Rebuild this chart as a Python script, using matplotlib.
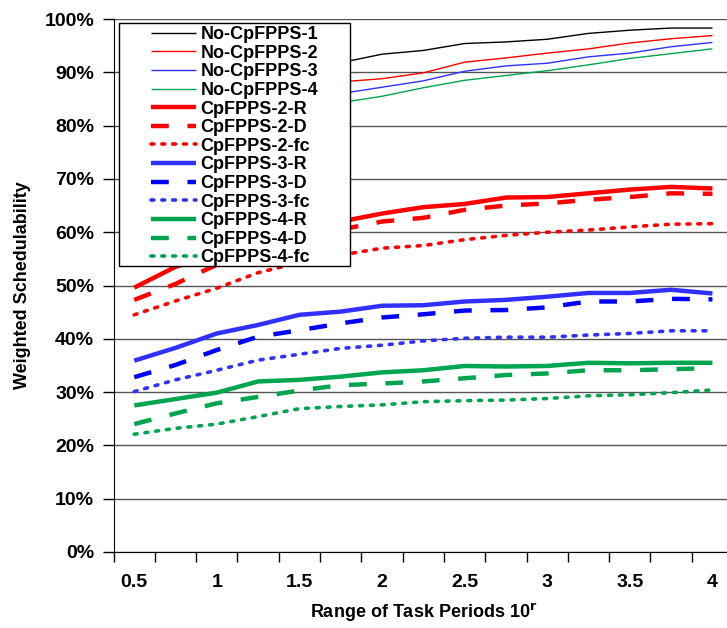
import matplotlib
matplotlib.use('Agg')
import matplotlib.pyplot as plt
from matplotlib.patches import Rectangle
from matplotlib.ticker import FixedLocator, PercentFormatter

# x categories: range of task periods
r_values = [0.5, 0.75, 1.0, 1.25, 1.5, 1.75, 2.0, 2.25, 2.5, 2.75, 3.0, 3.25, 3.5, 3.75, 4.0]
x_labels = ['0.5', '1', '1.5', '2', '2.5', '3', '3.5', '4']

# weighted schedulability (%)
no_cp_1 = [80.0, 84.0, 87.0, 89.0, 90.6, 91.8, 93.4, 94.1, 95.4, 95.7, 96.2, 97.3, 97.9, 98.3, 98.3]
no_cp_2 = [72.0, 77.5, 81.5, 84.5, 86.8, 88.2, 88.8, 89.9, 91.9, 92.7, 93.6, 94.4, 95.5, 96.3, 96.9]
no_cp_3 = [68.0, 73.5, 78.0, 81.5, 84.3, 86.0, 87.2, 88.4, 90.2, 91.2, 91.7, 92.9, 93.6, 94.8, 95.6]
no_cp_4 = [65.0, 70.5, 75.0, 78.5, 81.8, 84.3, 85.5, 87.1, 88.5, 89.4, 90.3, 91.4, 92.6, 93.5, 94.4]

cp2_r = [49.6, 53.5, 56.0, 58.5, 60.5, 62.0, 63.5, 64.7, 65.3, 66.5, 66.6, 67.3, 68.0, 68.5, 68.2]
cp2_d = [47.3, 50.3, 53.9, 56.5, 58.5, 60.5, 62.0, 62.7, 64.2, 65.0, 65.4, 66.1, 66.6, 67.3, 67.2]
cp2_fc = [44.5, 47.1, 49.5, 52.4, 54.3, 55.7, 57.0, 57.5, 58.6, 59.4, 60.0, 60.4, 61.0, 61.5, 61.6]

cp3_r = [35.9, 38.3, 41.0, 42.6, 44.5, 45.1, 46.2, 46.3, 47.0, 47.3, 47.9, 48.6, 48.6, 49.2, 48.5]
cp3_d = [32.8, 35.1, 37.9, 40.4, 41.6, 42.9, 44.0, 44.6, 45.3, 45.4, 45.9, 47.0, 47.0, 47.5, 47.4]
cp3_fc = [30.1, 32.3, 34.1, 36.0, 37.1, 38.2, 38.8, 39.6, 40.1, 40.3, 40.3, 40.7, 41.0, 41.5, 41.5]

cp4_r = [27.5, 28.7, 29.9, 32.0, 32.3, 32.9, 33.7, 34.1, 34.9, 34.8, 34.9, 35.5, 35.4, 35.5, 35.5]
cp4_d = [24.0, 26.0, 27.9, 29.1, 30.3, 31.3, 31.6, 32.0, 32.6, 33.2, 33.5, 34.1, 34.1, 34.3, 34.5]
cp4_fc = [22.1, 23.2, 24.0, 25.4, 26.9, 27.3, 27.6, 28.2, 28.4, 28.5, 28.8, 29.3, 29.5, 29.9, 30.4]

RED = '#FF0000'
BLUE = '#3030FF'
DBLUE = '#0000FF'
GREEN = '#00A550'
dash = (0, (4.0, 4.2))
dot = (0, (0.8, 2.2))

series = [
    ('No-CpFPPS-1', no_cp_1, 'black', '-', 1.0),
    ('No-CpFPPS-2', no_cp_2, RED, '-', 1.0),
    ('No-CpFPPS-3', no_cp_3, BLUE, '-', 1.0),
    ('No-CpFPPS-4', no_cp_4, GREEN, '-', 1.0),
    ('CpFPPS-2-R', cp2_r, RED, '-', 3.2),
    ('CpFPPS-2-D', cp2_d, RED, dash, 3.2),
    ('CpFPPS-2-fc', cp2_fc, RED, dot, 2.6),
    ('CpFPPS-3-R', cp3_r, BLUE, '-', 3.2),
    ('CpFPPS-3-D', cp3_d, DBLUE, dash, 3.2),
    ('CpFPPS-3-fc', cp3_fc, BLUE, dot, 2.6),
    ('CpFPPS-4-R', cp4_r, GREEN, '-', 3.2),
    ('CpFPPS-4-D', cp4_d, GREEN, dash, 3.2),
    ('CpFPPS-4-fc', cp4_fc, GREEN, dot, 2.6),
]

plt.rcParams['font.family'] = ['Liberation Sans', 'DejaVu Sans']

W, H = 727, 628
fig = plt.figure(figsize=(W / 100, H / 100), dpi=100)
ax = fig.add_axes([113.6 / W, 76 / H, 619.5 / W, 533 / H])

for name, vals, col, ls, lw in series:
    ax.plot(r_values, vals, color=col, linestyle=ls, linewidth=lw, label=name,
            solid_capstyle='butt', dash_capstyle='round' if ls == dot else 'butt')

ax.set_xlim(0.375, 4.125)
ax.set_ylim(0, 100)
ax.set_yticks(range(0, 101, 10))
ax.yaxis.set_major_formatter(PercentFormatter(decimals=0))
ax.yaxis.grid(True, color='#555555', linewidth=1.0)
ax.set_axisbelow(True)

ax.set_xticks([0.5, 1, 1.5, 2, 2.5, 3, 3.5, 4])
ax.set_xticklabels(x_labels)
ax.xaxis.set_minor_locator(FixedLocator([0.375 + 0.25 * k for k in range(16)]))
ax.tick_params(axis='x', which='major', length=0, pad=16)
ax.tick_params(axis='x', which='minor', length=7, width=1, direction='out')
ax.tick_params(axis='y', length=8, width=1, direction='out', pad=6)

for lab in ax.get_xticklabels() + ax.get_yticklabels():
    lab.set_fontweight('bold')
    lab.set_fontsize(14)

ax.spines['top'].set_visible(False)
ax.spines['right'].set_visible(False)

ax.set_xlabel('Range of Task Periods 10$^\\mathbf{r}$', fontsize=13, fontweight='bold',
              labelpad=7)
ax.set_ylabel('Weighted Schedulability', fontsize=13, fontweight='bold', labelpad=10)

# legend box drawn separately (Excel style padding)
box = Rectangle((119 / W, 1 - 266 / H), (350 - 119) / W, (266 - 23) / H,
                transform=fig.transFigure, facecolor='white', edgecolor='black',
                linewidth=1.0, zorder=4)
ax.add_patch(box)
box.set_clip_on(False)

leg = ax.legend(loc='upper left', bbox_to_anchor=(151 / W, 1 - 26 / H),
                bbox_transform=fig.transFigure, frameon=False,
                prop={'weight': 'bold', 'size': 13}, handlelength=2.5,
                handletextpad=0.25, labelspacing=0.09, borderpad=0,
                borderaxespad=0)
leg.set_zorder(5)

fig.savefig('out.png', dpi=100)
